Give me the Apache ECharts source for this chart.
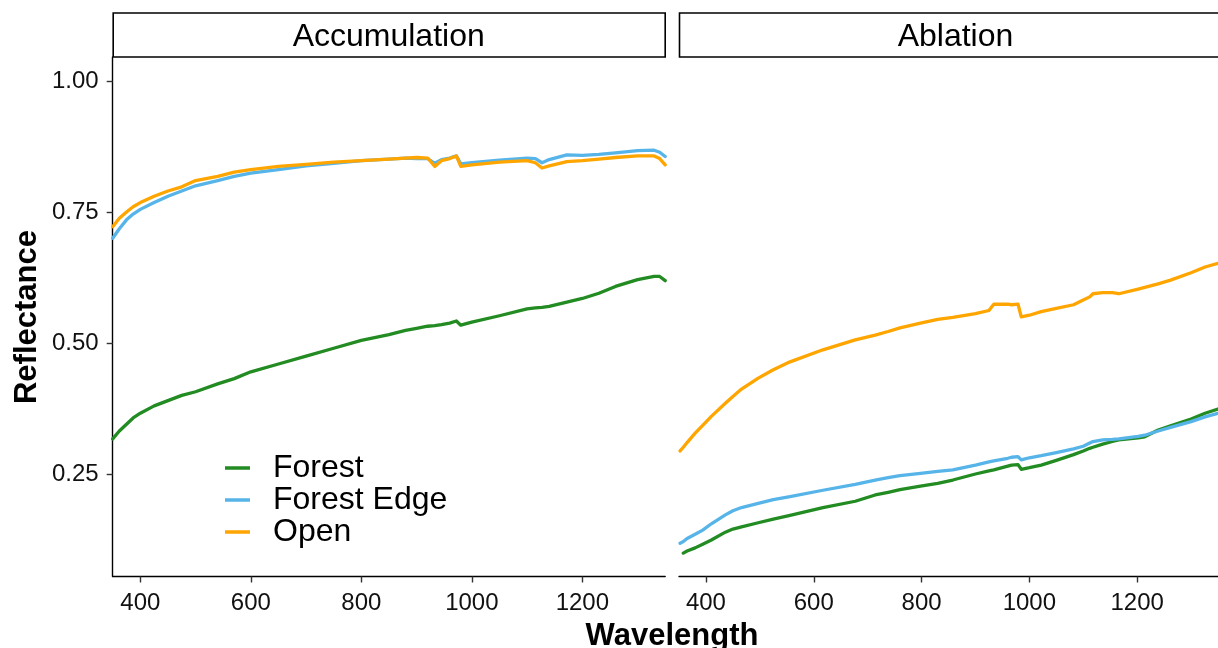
<!DOCTYPE html>
<html>
<head>
<meta charset="utf-8">
<title>Reflectance by wavelength</title>
<script src="https://cdn.jsdelivr.net/npm/echarts@6.0.0/dist/echarts.min.js"></script>
<style>
  html, body { margin: 0; padding: 0; background: #fff; overflow: hidden; }
  #chart { width: 1218px; height: 648px; }
</style>
</head>
<body>
<div id="chart"></div>
<script>
// Spectral reflectance of snow, faceted by season phase
const panelTitles = ['Accumulation', 'Ablation'];
const siteNames = ['Forest', 'Forest Edge', 'Open'];
const xTicks = [400, 600, 800, 1000, 1200];
const yTicks = [0.25, 0.5, 0.75, 1.0];

// Accumulation panel
const accWave = [350, 362, 375, 387, 400, 425, 450, 475, 500, 540, 570, 600, 650, 700, 750, 800, 850, 880, 900, 920, 933, 945, 960, 972, 980, 1000, 1050, 1100, 1115, 1127, 1140, 1172, 1200, 1230, 1260, 1300, 1330, 1340, 1350];
const accForest = [0.317, 0.332, 0.345, 0.357, 0.366, 0.380, 0.390, 0.400, 0.407, 0.422, 0.432, 0.445, 0.460, 0.475, 0.490, 0.505, 0.516, 0.524, 0.528, 0.532, 0.533, 0.535, 0.538, 0.542, 0.534, 0.540, 0.552, 0.565, 0.567, 0.568, 0.570, 0.578, 0.585, 0.595, 0.608, 0.621, 0.627, 0.627, 0.619];
const accEdge = [0.700, 0.718, 0.735, 0.746, 0.755, 0.768, 0.780, 0.790, 0.800, 0.810, 0.818, 0.824, 0.831, 0.838, 0.843, 0.848, 0.851, 0.853, 0.852, 0.852, 0.843, 0.850, 0.853, 0.857, 0.842, 0.844, 0.849, 0.853, 0.852, 0.844, 0.850, 0.859, 0.858, 0.860, 0.863, 0.867, 0.868, 0.864, 0.856];
const accOpen = [0.722, 0.738, 0.750, 0.760, 0.768, 0.780, 0.790, 0.798, 0.810, 0.818, 0.826, 0.831, 0.837, 0.841, 0.845, 0.848, 0.851, 0.853, 0.854, 0.853, 0.837, 0.848, 0.852, 0.857, 0.837, 0.840, 0.845, 0.848, 0.844, 0.834, 0.838, 0.846, 0.848, 0.851, 0.854, 0.857, 0.857, 0.852, 0.840];

// Ablation panel
const ablWave = [352, 358, 365, 380, 394, 410, 436, 450, 466, 497, 525, 556, 617, 677, 714, 738, 760, 798, 830, 858, 900, 925, 934, 960, 967, 979, 985, 1000, 1022, 1050, 1082, 1100, 1112, 1118, 1136, 1154, 1166, 1202, 1214, 1239, 1262, 1300, 1326, 1350];
const ablForest = [null, 0.099, 0.103, 0.109, 0.116, 0.124, 0.139, 0.145, 0.149, 0.157, 0.164, 0.171, 0.186, 0.198, 0.210, 0.215, 0.220, 0.227, 0.232, 0.2385, 0.250, 0.256, 0.258, 0.265, 0.267, 0.268, 0.259, 0.262, 0.267, 0.276, 0.287, 0.294, 0.299, 0.301, 0.307, 0.312, 0.315, 0.319, 0.321, 0.334, 0.342, 0.355, 0.366, 0.374];
const ablEdge = [0.118, 0.121, 0.127, 0.135, 0.143, 0.155, 0.172, 0.180, 0.186, 0.194, 0.201, 0.207, 0.219, 0.230, 0.2385, 0.243, 0.247, 0.251, 0.255, 0.258, 0.267, 0.273, 0.275, 0.280, 0.282, 0.283, 0.277, 0.281, 0.285, 0.291, 0.298, 0.303, 0.309, 0.312, 0.315, 0.316, 0.317, 0.322, 0.324, 0.332, 0.339, 0.350, 0.359, 0.366];
const ablOpen = [0.294, 0.301, 0.310, 0.328, 0.343, 0.360, 0.385, 0.398, 0.412, 0.433, 0.449, 0.464, 0.487, 0.506, 0.515, 0.522, 0.529, 0.538, 0.545, 0.549, 0.556, 0.562, 0.574, 0.574, 0.573, 0.574, 0.550, 0.553, 0.560, 0.566, 0.573, 0.582, 0.588, 0.594, 0.596, 0.596, 0.594, 0.603, 0.606, 0.613, 0.620, 0.634, 0.645, 0.652];

const siteColors = ['#228B22', '#56B4E9', '#FFA500'];
const FONT = '"Liberation Sans", Arial, Helvetica, sans-serif';

function pairs(xs, ys) {
  return xs.map((x, i) => [x, ys[i]]);
}

const panelSeries = [
  [accForest, accEdge, accOpen],
  [ablForest, ablEdge, ablOpen]
];
const panelWaves = [accWave, ablWave];

const series = [];
panelSeries.forEach((group, p) => {
  group.forEach((vals, s) => {
    series.push({
      name: siteNames[s],
      type: 'line',
      xAxisIndex: p,
      yAxisIndex: p,
      data: pairs(panelWaves[p], vals),
      showSymbol: false,
      symbol: 'none',
      connectNulls: false,
      clip: true,
      color: siteColors[s],
      lineStyle: { width: 3.3, color: siteColors[s], cap: 'round', join: 'round' },
      emphasis: { disabled: true },
      z: 2 + s
    });
  });
});

const PLOT_TOP = 57, PLOT_H = 519.5, PLOT_W = 552.5;
const panelLeft = [112.7, 679];
const Y_MIN = 0.0544, Y_MAX = 1.0458;

function xAxisFor(i) {
  return {
    type: 'value', gridIndex: i, min: 350, max: 1350,
    axisLine: { show: true, lineStyle: { color: '#000', width: 1.4 } },
    axisTick: { show: true, length: 6, lineStyle: { color: '#333', width: 1.4 }, customValues: xTicks },
    axisLabel: { show: true, customValues: xTicks, margin: 15, color: '#111', fontSize: 24, fontFamily: FONT,
      formatter: v => String(Math.round(v)) },
    splitLine: { show: false }
  };
}
function yAxisFor(i) {
  const shown = i === 0;
  return {
    type: 'value', gridIndex: i, min: Y_MIN, max: Y_MAX,
    axisLine: { show: shown, onZero: false, lineStyle: { color: '#000', width: 1.4 } },
    axisTick: { show: shown, length: 6, lineStyle: { color: '#333', width: 1.4 }, customValues: yTicks },
    axisLabel: { show: shown, customValues: yTicks, margin: 14, color: '#111', fontSize: 24, fontFamily: FONT,
      formatter: v => v.toFixed(2) },
    splitLine: { show: false }
  };
}

const stripGraphics = panelTitles.map((t, i) => ({
  type: 'group',
  children: [
    { type: 'rect', shape: { x: panelLeft[i] + 0.5, y: 13, width: (i === 0 ? 552 : 570), height: 44 },
      style: { fill: '#fff', stroke: '#000', lineWidth: 1.6 } },
    { type: 'text', x: (i === 0 ? panelLeft[i] + 276 : 955.5), y: 37.5,
      style: { text: t, fill: '#000', font: '32px ' + FONT, align: 'center', verticalAlign: 'middle' } }
  ]
}));

const option = {
  animation: false,
  backgroundColor: '#fff',
  grid: panelLeft.map(l => ({ left: l, top: PLOT_TOP, width: PLOT_W, height: PLOT_H, containLabel: false })),
  xAxis: [xAxisFor(0), xAxisFor(1)],
  yAxis: [yAxisFor(0), yAxisFor(1)],
  legend: {
    data: siteNames,
    orient: 'vertical',
    left: 225,
    top: 452,
    padding: 0,
    itemGap: 0,
    itemWidth: 25,
    itemHeight: 3.5,
    icon: 'rect',
    selectedMode: false,
    textStyle: { fontSize: 32, fontFamily: FONT, color: '#000', lineHeight: 32, padding: [0, 0, 0, 18] }
  },
  graphic: [
    ...stripGraphics,
    { type: 'text', x: 27, y: 317, rotation: Math.PI / 2,
      style: { text: 'Reflectance', fill: '#000', font: 'bold 31px ' + FONT, align: 'center', verticalAlign: 'middle' } },
    { type: 'text', x: 672, y: 636,
      style: { text: 'Wavelength', fill: '#000', font: 'bold 31px ' + FONT, align: 'center', verticalAlign: 'middle' } }
  ],
  series: series
};

const chart = echarts.init(document.getElementById('chart'), null, { renderer: 'canvas' });
chart.setOption(option);
</script>
</body>
</html>
